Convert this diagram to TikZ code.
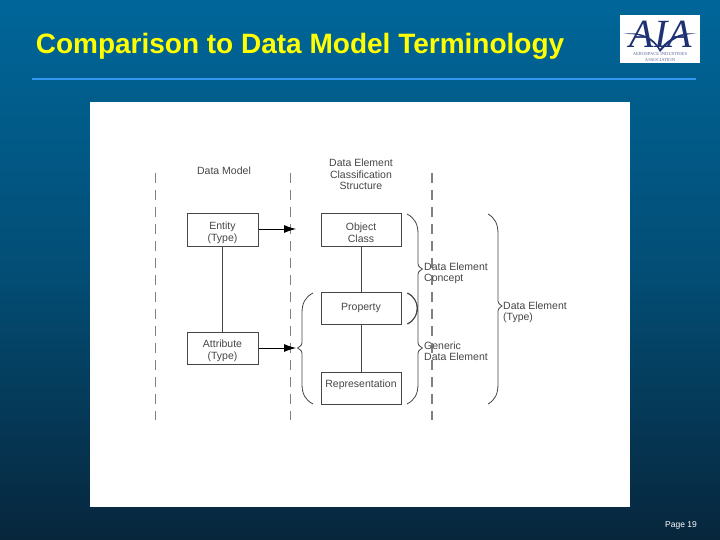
\documentclass[tikz,border=0pt]{standalone}
\usepackage{fontspec}
\setmainfont{Liberation Sans}
\newfontfamily\logofont{Liberation Serif}
\usetikzlibrary{calc,arrows.meta}
\definecolor{slidetop}{RGB}{0,102,153}
\definecolor{slidebot}{RGB}{7,38,60}
\definecolor{titleyellow}{RGB}{255,255,0}
\definecolor{ruleblue}{RGB}{48,150,240}
\definecolor{logoblue}{RGB}{30,50,115}
\definecolor{inkgray}{RGB}{70,70,70}
\tikzset{
  partbox/.style={draw=inkgray,line width=1pt,fill=white,text=inkgray,inner sep=0pt,
    minimum height=32,font=\fontsize{10.5}{11.5}\selectfont,align=center},
  lbl/.style={text=inkgray,inner sep=0pt,font=\fontsize{10.5}{11.5}\selectfont},
  sep/.style={gray,line width=0.8pt,dash pattern=on 10pt off 7pt},
  brc/.style={inkgray,line width=0.8pt}
}
\newcommand{\upper}{\rule{0pt}{13pt}}
\begin{document}
\begin{tikzpicture}[x=1pt,y=-1pt,>={Latex[length=12pt,width=8pt]}]
  \useasboundingbox (0,0) rectangle (720,540);
  \shade[top color=slidetop,bottom color=slidebot,middle color=slidetop!62!slidebot] (0,0) rectangle (720,540);
  % header
  \node (title) at (300,46) {\color{titleyellow}\fontsize{28}{30}\selectfont\bfseries Comparison to Data Model Terminology};
  \draw[ruleblue,line width=2pt] (32,79)--(696,79);
  \fill[white] (620,15) rectangle (700,63);
  \node[inner sep=0pt,text=logoblue] (logo) at (661,34) {\logofont\itshape\fontsize{40}{40}\selectfont AIA};
  \fill[logoblue] (623,34) .. controls (642,31) and (654,38) .. (660,49) .. controls (668,38) and (682,31) .. (697,34)
    .. controls (682,33) and (670,40) .. (660,52) .. controls (654,40) and (642,33) .. (623,34);
  \node[inner sep=0pt,text=logoblue!70,font=\logofont\fontsize{4.6}{5}\selectfont] (logoa) at (660,54) {AEROSPACE INDUSTRIES};
  \node[inner sep=0pt,text=logoblue!70,font=\logofont\fontsize{4.6}{5}\selectfont] (logob) at (660,60) {ASSOCIATION};
  \node[text=white,inner sep=0pt] (page) at (681,525) {\fontsize{8.5}{9}\selectfont Page 19};
  % panel
  \fill[white] (90,102) rectangle (630,507);
  \foreach \x/\w in {155/0.8,290/0.8,432/1.2} {\draw[sep,line width=\w pt] (\x,173)--(\x,420);}
  % columns
  \node[lbl] (dm) at (224,171) {Data Model};
  \node[lbl,align=center] (decs) at (361,174.5) {Data Element\\Classification\\Structure};
  \node[partbox,minimum width=71] (entity) at (222.5,230) {\upper Entity\\(Type)};
  \node[partbox,minimum width=71] (attr) at (222.5,348) {\upper Attribute\\(Type)};
  \node[partbox,minimum width=80] (object) at (361,230) {\upper Object\\Class};
  \node[partbox,minimum width=80] (prop) at (361,308.5) {\rule[-4pt]{0pt}{8pt}Property};
  \node[partbox,minimum width=80] (rep) at (361,388) {\rule[-9pt]{0pt}{8pt}Representation};
  \draw[inkgray,line width=0.8pt] (entity)--(attr);
  \draw[inkgray,line width=0.8pt] (object)--(prop);
  \draw[inkgray,line width=0.8pt] (prop)--(rep);
  \coordinate (a1) at (296,229);
  \coordinate (a2) at (296,348);
  \draw[->,black,line width=0.8pt] (entity.east|-a1)--(a1);
  \draw[->,black,line width=0.8pt] (attr.east|-a2)--(a2);
  % braces
  \foreach \x/\d/\ya/\yt/\yb in {407/11/214/269/324,407/11/293/348/404,488/10/214/306/404,313/-11/293/348/404} {
    \draw[brc] (\x,\ya) .. controls (\x+0.7*\d,\ya+4) and (\x+\d,\ya+10) .. (\x+\d,\ya+20)
      -- (\x+\d,\yt-8) .. controls (\x+\d,\yt-3) .. (\x+1.4*\d,\yt)
      .. controls (\x+\d,\yt+3) .. (\x+\d,\yt+8)
      -- (\x+\d,\yb-20) .. controls (\x+\d,\yb-10) and (\x+0.7*\d,\yb-4) .. (\x,\yb);
  }
  \draw[brc] (408,293) .. controls (414,296) and (417,302) .. (417,308) .. controls (417,315) and (414,321) .. (408,324);
  % brace labels
  \node[lbl,align=left,anchor=west] (dec) at (424,273.5) {Data Element\\Concept};
  \node[lbl,align=left,anchor=west] (gde) at (424,351) {Generic\\Data Element};
  \node[lbl,align=left,anchor=west] (det) at (503,312.5) {Data Element\\(Type)};
\end{tikzpicture}
\end{document}
